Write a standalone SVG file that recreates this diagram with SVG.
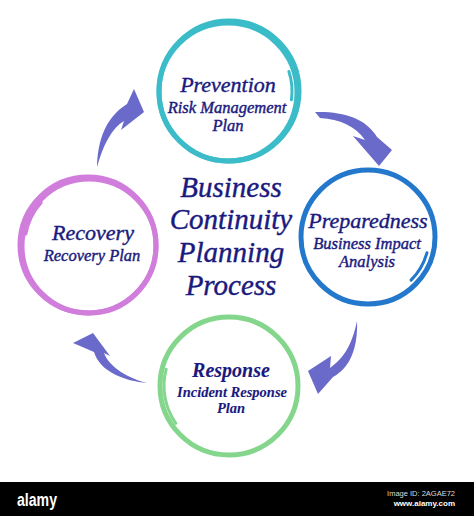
<svg xmlns="http://www.w3.org/2000/svg" width="474" height="516" viewBox="0 0 474 516">
<style>
.t{font-family:"Liberation Serif","Times New Roman",serif;font-style:italic;fill:#1a1a7e;stroke:#1a1a7e;stroke-width:0.4;text-anchor:middle}
.h{font-size:22px}
.s{font-size:16.5px}
.c{font-size:29px}
.b{font-weight:bold;stroke-width:0.1}
.ring{fill:none;stroke-width:5}
.tail{fill:none;stroke-width:3;stroke-linecap:round}
.arrow{fill:#6a6acb}
</style>
<rect width="474" height="516" fill="#ffffff"/>
<g id="connectors">
<path class="arrow" d="M97,167 C98,140 105,118 127,104 L134,89 L144,112 L121,130 L124,121 C112,128 103,145 97,167 Z"/>
<path class="arrow" d="M315,112 C342,111 366,118 377,137 L392,150 L379,166 L353,136 L365,140 C355,126 340,119 320,118 Z"/>
<path class="arrow" d="M357,321 C358,348 350,368 333,377 L318,394 L308,371 L331,356 L330,368 C344,358 352,345 357,321 Z"/>
<path class="arrow" d="M147,383 C125,381 100,372 94,352 L73,343 L93,333 L110,356 L104,353 C110,368 128,378 147,383 Z"/>
</g>
<g id="node-prevention">
<circle class="ring" cx="229" cy="91" r="70" stroke="#3bbcc8"/>
<circle class="ring" cx="228" cy="92" r="69" stroke="#3bbcc8" stroke-width="3"/>
<path class="tail" d="M288.9,71.5 A63,63 0 0 1 291.4,99.8" stroke="#3bbcc8"/>
<text class="t h" x="228" y="92">Prevention</text>
<text class="t s" x="227" y="113">Risk Management</text>
<text class="t s" x="228" y="131">Plan</text>
</g>
<g id="node-preparedness">
<circle class="ring" cx="368" cy="237" r="67" stroke="#2378cc"/>
<path class="tail" d="M426.9,252.8 A61,61 0 0 1 411.1,280.1" stroke="#2378cc"/>
<text class="t h" x="368" y="228">Preparedness</text>
<text class="t s" x="367" y="249">Business Impact</text>
<text class="t s" x="367" y="267">Analysis</text>
</g>
<g id="node-recovery">
<circle class="ring" cx="88" cy="245" r="68" stroke="#d07ddc"/>
<circle class="ring" cx="89" cy="246" r="67" stroke="#d07ddc" stroke-width="3"/>
<path class="tail" d="M25.9,234 A63,63 0 0 1 41.2,202.8" stroke="#d07ddc"/>
<text class="t h" x="93" y="240">Recovery</text>
<text class="t s" x="92" y="261">Recovery Plan</text>
</g>
<g id="node-response">
<circle class="ring" cx="229" cy="386" r="69" stroke="#84d68c"/>
<path class="tail" d="M175.8,423.3 A65,65 0 0 1 166.2,369.2" stroke="#84d68c" stroke-width="4"/>
<text class="t b" x="231" y="377" font-size="20">Response</text>
<text class="t b" x="232" y="397" font-size="14.5">Incident Response</text>
<text class="t b" x="231" y="413" font-size="14.5">Plan</text>
</g>
<g id="title">
<text class="t c" x="231" y="197">Business</text>
<text class="t c" x="231" y="229">Continuity</text>
<text class="t c" x="231" y="262">Planning</text>
<text class="t c" x="231" y="295">Process</text>
</g>
<g id="watermark">
<rect x="0" y="482" width="474" height="34" fill="#000000"/>
<text x="17" y="506" font-family="'Liberation Sans',Arial,sans-serif" font-weight="bold" font-size="18" fill="#ffffff" textLength="40" lengthAdjust="spacingAndGlyphs">alamy</text>
<text x="455" y="496" font-family="'Liberation Sans',Arial,sans-serif" font-size="7.5" fill="#dddddd" text-anchor="end">Image ID: 2AGAE72</text>
<text x="455" y="506" font-family="'Liberation Sans',Arial,sans-serif" font-weight="bold" font-size="8" fill="#ffffff" text-anchor="end">www.alamy.com</text>
</g>
</svg>
